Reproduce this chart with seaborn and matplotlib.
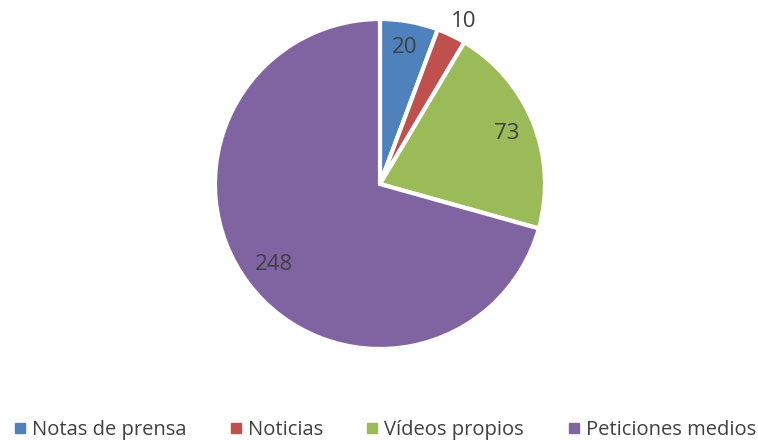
import matplotlib
matplotlib.use('Agg')
import matplotlib.pyplot as plt
import numpy as np
import seaborn as sns
from matplotlib.lines import Line2D

# Data
categories = ['Notas de prensa', 'Noticias', 'Vídeos propios', 'Peticiones medios']
values = [20, 10, 73, 248]
colors = ['#4F81BD', '#C0504D', '#9BBB59', '#8064A2']
label_dist = [0.84, 1.11, 0.83, 0.81]

sns.set_style('white')
plt.rcParams['font.family'] = ['Open Sans', 'DejaVu Sans']
text_color = '#404040'

fig = plt.figure(figsize=(7.58, 4.40), dpi=100)
ax = fig.add_axes([0.2836, 0.2068, 0.4354, 0.75])

wedges, _ = ax.pie(values, colors=colors, startangle=90, counterclock=False,
                   radius=1, wedgeprops=dict(edgecolor='white', linewidth=3))
ax.set_xlim(-1, 1)
ax.set_ylim(-1, 1)
ax.set_aspect('equal')
ax.axis('off')

# Data labels
for w, v, d in zip(wedges, values, label_dist):
    ang = np.deg2rad((w.theta1 + w.theta2) / 2 - 1.5 * (d > 1))
    ax.text(d * np.cos(ang), d * np.sin(ang), str(v), ha='center', va='center',
            fontsize=16, color=text_color)

handles = [Line2D([0], [0], marker='s', linestyle='', markersize=7,
                  markerfacecolor=c, markeredgecolor=c) for c in colors]
fig.legend(handles, categories, loc='lower center', ncol=4, frameon=False,
           bbox_to_anchor=(0.505, -0.042), fontsize=14.5, labelcolor=text_color,
           handletextpad=0.1, columnspacing=1.95, handlelength=1.0)

fig.savefig('out.png', dpi=100)
